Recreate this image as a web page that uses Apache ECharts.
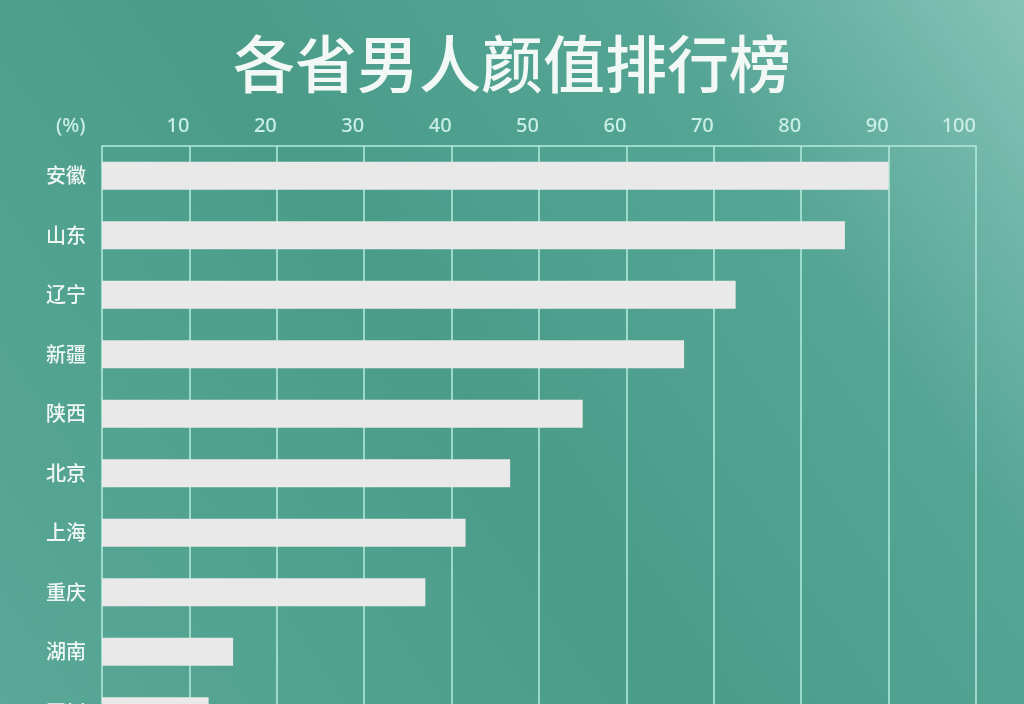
<!DOCTYPE html>
<html>
<head>
<meta charset="utf-8">
<style>
html, body { margin: 0; padding: 0; }
#main { width: 1024px; height: 704px; }
</style>
<script src="https://cdn.jsdelivr.net/npm/echarts@6/dist/echarts.min.js"></script>
</head>
<body>
<div id="main"></div>
<script>
var provinces = ['安徽', '山东', '辽宁', '新疆', '陕西', '北京', '上海', '重庆', '湖南', '四川'];
var scores = [90, 85, 72.5, 66.6, 55, 46.7, 41.6, 37, 15, 12.2];
var titleText = '各省男人颜值排行榜';
var unitText = '(%)';

var myChart = echarts.init(document.getElementById('main'));
myChart.setOption({
	backgroundColor: {
		type: 'linear',
		x: 0, y: 1, x2: 1, y2: 0,
		colorStops: [
			{ offset: 0, color: '#5aa897' },
			{ offset: 0.45, color: '#4a9c89' },
			{ offset: 0.75, color: '#55a595' },
			{ offset: 1, color: '#86c3b7' }
		]
	},
	title: {
		text: titleText,
		left: 'center',
		top: 28,
		textStyle: {
			color: '#f2f8f5',
			fontSize: 62,
			fontWeight: 500,
			fontFamily: 'Noto Sans CJK SC'
		}
	},
	graphic: [{
		type: 'text',
		left: 56,
		top: 116,
		style: {
			text: unitText,
			fill: '#c9efe4',
			fontSize: 20,
			fontWeight: 500,
			fontFamily: 'Noto Sans'
		}
	}],
	grid: {
		left: 102,
		right: 48,
		top: 146,
		height: 595,
		outerBoundsMode: 'none'
	},
	xAxis: {
		type: 'value',
		position: 'top',
		min: 0,
		max: 100,
		interval: 10,
		axisLine: { show: true, lineStyle: { color: '#b4ecdc', width: 1.5 } },
		axisTick: { show: false },
		axisLabel: {
			showMinLabel: false,
			color: '#c9efe4',
			fontSize: 20,
			fontWeight: 500,
			fontFamily: 'Noto Sans',
			align: 'right',
			margin: 10
		},
		splitLine: { show: true, lineStyle: { color: '#b4ecdc', width: 1.5 } }
	},
	yAxis: {
		type: 'category',
		inverse: true,
		data: provinces,
		axisLine: { show: false },
		axisTick: { show: false },
		axisLabel: {
			color: '#eef7f3',
			fontSize: 20,
			fontWeight: 500,
			fontFamily: 'Noto Sans CJK SC',
			margin: 16
		}
	},
	series: [{
		type: 'bar',
		data: scores,
		barWidth: 28,
		itemStyle: { color: '#e8e9e8' },
		silent: true
	}]
});
</script>
</body>
</html>
